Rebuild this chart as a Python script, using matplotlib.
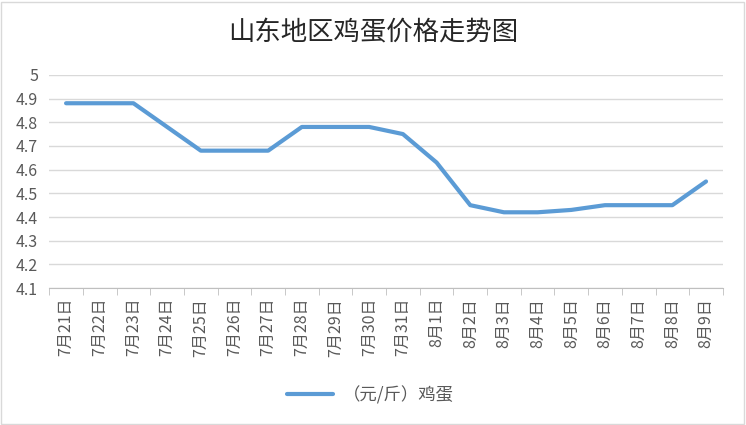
import matplotlib
matplotlib.use("Agg")
from matplotlib import pyplot as plt
import numpy as np

plt.rcParams['font.family'] = ['Noto Sans CJK SC', 'DejaVu Sans']

dates = ["7月21日", "7月22日", "7月23日", "7月24日", "7月25日", "7月26日", "7月27日",
         "7月28日", "7月29日", "7月30日", "7月31日", "8月1日", "8月2日", "8月3日",
         "8月4日", "8月5日", "8月6日", "8月7日", "8月8日", "8月9日"]
prices = [4.88, 4.88, 4.88, 4.78, 4.68, 4.68, 4.68, 4.78, 4.78, 4.78, 4.75,
          4.63, 4.45, 4.42, 4.42, 4.43, 4.45, 4.45, 4.45, 4.55]
yticks = [4.1, 4.2, 4.3, 4.4, 4.5, 4.6, 4.7, 4.8, 4.9, 5]

fig = plt.figure(figsize=(7.46, 4.25), dpi=100)
ax = fig.add_axes([0.066, 0.322, 0.903, 0.502])

x = np.arange(len(dates))
ax.plot(x, prices, color="#5B9BD5", linewidth=3, solid_capstyle="round",
        solid_joinstyle="round", label="（元/斤）鸡蛋")

ax.set_xlim(-0.5, len(dates) - 0.5)
ax.set_ylim(4.1, 5)
ax.set_yticks(yticks)
ax.set_yticklabels([f"{v:g}" for v in yticks])
ax.yaxis.grid(True, color="#D9D9D9", linewidth=1)
ax.set_axisbelow(True)

ax.set_xticks(x)
ax.set_xticklabels(dates, rotation=90)
ax.set_xticks(np.arange(-0.5, len(dates)), minor=True)
ax.tick_params(axis="x", which="major", length=0, pad=7, labelsize=11.5, colors="#595959")
ax.tick_params(axis="x", which="minor", length=5, color="#BFBFBF")
ax.tick_params(axis="y", length=0, labelsize=11.5, colors="#595959", pad=8)
for lab in ax.get_xticklabels():
    lab.set_va("top")

for side in ["left", "right", "top"]:
    ax.spines[side].set_visible(False)
ax.spines["bottom"].set_color("#BFBFBF")

fig.text(0.5, 0.922, "山东地区鸡蛋价格走势图", ha="center", va="center",
         fontsize=19, color="#262626")

fig.legend(loc="center", bbox_to_anchor=(0.497, 0.07), frameon=False,
           fontsize=12.5, labelcolor="#595959", handlelength=2.6, handletextpad=0.6)

border = plt.Rectangle((0.002, 0.003), 0.995, 0.993, transform=fig.transFigure,
                       fill=False, edgecolor="#D9D9D9", linewidth=1)
fig.add_artist(border)

fig.savefig("out.png", dpi=100)
